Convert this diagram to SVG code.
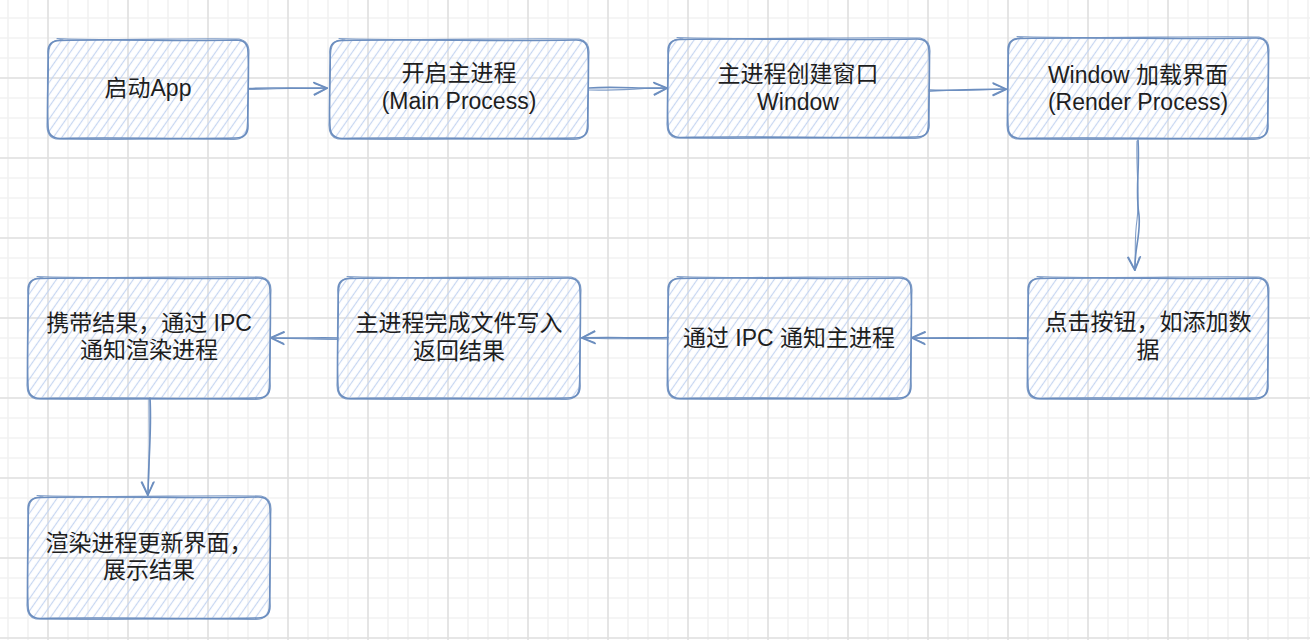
<svg xmlns="http://www.w3.org/2000/svg" width="1310" height="640" viewBox="0 0 1310 640">
  <defs>
    <style>
      .edge { fill: none; stroke: #6c8ebf; stroke-width: 1.6; stroke-linecap: round; stroke-linejoin: round; }
      .edge2 { fill: none; stroke: #6c8ebf; stroke-width: 1.1; stroke-linecap: round; stroke-linejoin: round; opacity: 0.85; }
      .hatch { fill: url(#hatchFill); stroke: none; }
      .label { font-family: "Liberation Sans", "Noto Sans CJK SC", sans-serif; font-size: 23px; fill: #1e1e1e; text-anchor: middle; dominant-baseline: central; }
    </style>
    <!-- background grid -->
    <pattern id="gridMinor" patternUnits="userSpaceOnUse" x="-2" y="-12" width="20" height="20">
      <path d="M10,0 V20 M0,10 H20" stroke="#f2f2f2" stroke-width="1.6" fill="none"/>
    </pattern>
    <pattern id="gridMajor" patternUnits="userSpaceOnUse" x="8" y="-42" width="80" height="80">
      <path d="M40,0 V80 M0,40 H80" stroke="#e1e1e1" stroke-width="1.6" fill="none"/>
    </pattern>
    <!-- hachure fill for the boxes -->
    <pattern id="hatchFill" patternUnits="userSpaceOnUse" width="7" height="7" patternTransform="rotate(35)">
      <line x1="3.5" y1="-1" x2="3.5" y2="8" stroke="#c6d6f1" stroke-width="1.2"/>
    </pattern>
    <marker id="arrowHead" markerUnits="userSpaceOnUse" orient="auto" refX="0" refY="0" markerWidth="24" markerHeight="24" viewBox="-18 -12 24 24" overflow="visible">
      <path d="M-13,-6 L0,0 L-13,6" fill="none" stroke="#6c8ebf" stroke-width="1.6" stroke-linecap="round" stroke-linejoin="round"/>
      <path d="M-12.5,-5 L0.5,0.4 L-12.8,6.8" fill="none" stroke="#6c8ebf" stroke-width="1.1" stroke-linecap="round" stroke-linejoin="round"/>
    </marker>
  </defs>

  <rect width="1310" height="640" fill="#ffffff"/>
  <rect width="1310" height="640" fill="url(#gridMinor)"/>
  <rect width="1310" height="640" fill="url(#gridMajor)"/>

  <g id="connectors">
    <path class="edge" d="M249,88.5 C275,87 300,89 327,88" marker-end="url(#arrowHead)"/>
    <path class="edge2" d="M249,89.5 C276,89 302,87.5 327,88"/>

    <path class="edge" d="M589,88 C615,86 640,89 667,88" marker-end="url(#arrowHead)"/>
    <path class="edge2" d="M589,90 C615,91 642,88 667,88"/>

    <path class="edge" d="M929,90 C955,91 980,89 1006,89" marker-end="url(#arrowHead)"/>
    <path class="edge2" d="M929,91.5 C956,89.5 981,90.5 1006,89"/>

    <path class="edge" d="M1138,140 C1140,170 1135,190 1139,215 C1141,235 1134,250 1135,270" marker-end="url(#arrowHead)"/>
    <path class="edge2" d="M1137,141 C1136,172 1140,195 1137,220 C1134,240 1136,255 1135,270"/>

    <path class="edge" d="M1028,338.5 C990,337 950,339 912,338" marker-end="url(#arrowHead)"/>
    <path class="edge2" d="M1028,337.5 C988,338.5 951,337 912,338"/>

    <path class="edge" d="M668,337.5 C640,338.5 610,337 582,338" marker-end="url(#arrowHead)"/>
    <path class="edge2" d="M668,339 C638,338 612,339.5 582,338"/>

    <path class="edge" d="M338,338 C315,337.5 293,338.5 271,338" marker-end="url(#arrowHead)"/>
    <path class="edge2" d="M338,339.5 C316,339 294,339 271,338"/>

    <path class="edge" d="M150,398 C152,430 148,465 148,495" marker-end="url(#arrowHead)"/>
    <path class="edge2" d="M149,399 C149,432 150,462 148,495"/>
  </g>

  <g id="start-app">
    <rect class="hatch" x="48" y="40" width="200" height="98" rx="12"/>
    <path class="edge" d="M60,40.5 C118,39 178,41.5 236,40 Q248,40 248,52 C249.5,74 247,104 248,126 Q248,138 236,138 C178,139.5 118,137 60,138.5 Q48,138 48,126 C46.5,104 49,74 48,52 Q48,40.5 60,40.5"/>
    <path class="edge2" d="M57,38.5 C118,41 180,38 239,39 Q249.5,41 249,53 C247.5,78 249.5,102 247,128 Q245.5,140 233,139.5 C176,137.5 116,140.5 56,139 Q46.5,137 47,124 C48.5,100 46,76 49,50 Q50.5,38.5 63,40"/>
    <text class="label" x="148" y="88">启动App</text>
  </g>

  <g id="main-process">
    <rect class="hatch" x="330" y="40" width="258" height="98" rx="12"/>
    <path class="edge" d="M342,40.5 C418,39 500,41.5 576,40 Q588,40 588,52 C589.5,74 587,104 588,126 Q588,138 576,138 C500,139.5 418,137 342,138.5 Q330,138 330,126 C328.5,104 331,74 330,52 Q330,40.5 342,40.5"/>
    <path class="edge2" d="M339,38.5 C420,41 500,38 579,39 Q589.5,41 589,53 C587.5,78 589.5,102 587,128 Q585.5,140 573,139.5 C498,137.5 416,140.5 338,139 Q328.5,137 329,124 C330.5,100 328,76 331,50 Q332.5,38.5 345,40"/>
    <text class="label" x="459" y="73">开启主进程</text>
    <text class="label" x="459" y="101">(Main Process)</text>
  </g>

  <g id="create-window">
    <rect class="hatch" x="668" y="39" width="261" height="98" rx="12"/>
    <path class="edge" d="M680,39.5 C760,38 842,40.5 917,39 Q929,39 929,51 C930.5,73 928,103 929,125 Q929,137 917,137 C842,138.5 760,136 680,137.5 Q668,137 668,125 C666.5,103 669,73 668,51 Q668,39.5 680,39.5"/>
    <path class="edge2" d="M677,37.5 C760,40 842,37 920,38 Q930.5,40 930,52 C928.5,77 930.5,101 928,127 Q926.5,139 914,138.5 C840,136.5 758,139.5 676,138 Q666.5,136 667,123 C668.5,99 666,75 669,49 Q670.5,37.5 683,39"/>
    <text class="label" x="798" y="74">主进程创建窗口</text>
    <text class="label" x="798" y="102">Window</text>
  </g>

  <g id="render-process">
    <rect class="hatch" x="1008" y="38" width="260" height="100" rx="12"/>
    <path class="edge" d="M1020,38.5 C1100,37 1182,39.5 1256,38 Q1268,38 1268,50 C1269.5,73 1267,104 1268,126 Q1268,138 1256,138 C1182,139.5 1100,137 1020,138.5 Q1008,138 1008,126 C1006.5,104 1009,73 1008,50 Q1008,38.5 1020,38.5"/>
    <path class="edge2" d="M1017,36.5 C1100,39 1182,36 1259,37 Q1269.5,39 1269,51 C1267.5,77 1269.5,102 1267,128 Q1265.5,140 1253,139.5 C1180,137.5 1098,140.5 1016,139 Q1006.5,137 1007,124 C1008.5,100 1006,76 1009,48 Q1010.5,36.5 1023,38"/>
    <text class="label" x="1138" y="75">Window 加载界面</text>
    <text class="label" x="1138" y="102">(Render Process)</text>
  </g>

  <g id="click-button">
    <rect class="hatch" x="1028" y="278" width="240" height="120" rx="12"/>
    <path class="edge" d="M1040,278.5 C1112,277 1190,279.5 1256,278 Q1268,278 1268,290 C1269.5,318 1267,358 1268,386 Q1268,398 1256,398 C1190,399.5 1112,397 1040,398.5 Q1028,398 1028,386 C1026.5,358 1029,318 1028,290 Q1028,278.5 1040,278.5"/>
    <path class="edge2" d="M1037,276.5 C1112,279 1190,276 1259,277 Q1269.5,279 1269,291 C1267.5,322 1269.5,356 1267,388 Q1265.5,400 1253,399.5 C1188,397.5 1110,400.5 1036,399 Q1026.5,397 1027,384 C1028.5,354 1026,322 1029,288 Q1030.5,276.5 1043,278"/>
    <text class="label" x="1148" y="322">点击按钮，如添加数</text>
    <text class="label" x="1148" y="350">据</text>
  </g>

  <g id="ipc-notify-main">
    <rect class="hatch" x="668" y="278" width="243" height="120" rx="12"/>
    <path class="edge" d="M680,278.5 C752,277 830,279.5 899,278 Q911,278 911,290 C912.5,318 910,358 911,386 Q911,398 899,398 C830,399.5 752,397 680,398.5 Q668,398 668,386 C666.5,358 669,318 668,290 Q668,278.5 680,278.5"/>
    <path class="edge2" d="M677,276.5 C752,279 830,276 902,277 Q912.5,279 912,291 C910.5,322 912.5,356 910,388 Q908.5,400 896,399.5 C828,397.5 750,400.5 676,399 Q666.5,397 667,384 C668.5,354 666,322 669,288 Q670.5,276.5 683,278"/>
    <text class="label" x="789" y="338">通过 IPC 通知主进程</text>
  </g>

  <g id="write-file">
    <rect class="hatch" x="338" y="278" width="242" height="120" rx="12"/>
    <path class="edge" d="M350,278.5 C422,277 500,279.5 568,278 Q580,278 580,290 C581.5,318 579,358 580,386 Q580,398 568,398 C500,399.5 422,397 350,398.5 Q338,398 338,386 C336.5,358 339,318 338,290 Q338,278.5 350,278.5"/>
    <path class="edge2" d="M347,276.5 C422,279 500,276 571,277 Q581.5,279 581,291 C579.5,322 581.5,356 579,388 Q577.5,400 565,399.5 C498,397.5 420,400.5 346,399 Q336.5,397 337,384 C338.5,354 336,322 339,288 Q340.5,276.5 353,278"/>
    <text class="label" x="459" y="323">主进程完成文件写入</text>
    <text class="label" x="459" y="351">返回结果</text>
  </g>

  <g id="ipc-notify-render">
    <rect class="hatch" x="28" y="278" width="242" height="120" rx="12"/>
    <path class="edge" d="M40,278.5 C112,277 190,279.5 258,278 Q270,278 270,290 C271.5,318 269,358 270,386 Q270,398 258,398 C190,399.5 112,397 40,398.5 Q28,398 28,386 C26.5,358 29,318 28,290 Q28,278.5 40,278.5"/>
    <path class="edge2" d="M37,276.5 C112,279 190,276 261,277 Q271.5,279 271,291 C269.5,322 271.5,356 269,388 Q267.5,400 255,399.5 C188,397.5 110,400.5 36,399 Q26.5,397 27,384 C28.5,354 26,322 29,288 Q30.5,276.5 43,278"/>
    <text class="label" x="149" y="323">携带结果，通过 IPC</text>
    <text class="label" x="149" y="350">通知渲染进程</text>
  </g>

  <g id="update-view">
    <rect class="hatch" x="28" y="497" width="242" height="121" rx="12"/>
    <path class="edge" d="M40,497.5 C112,496 190,498.5 258,497 Q270,497 270,509 C271.5,537 269,578 270,606 Q270,618 258,618 C190,619.5 112,617 40,618.5 Q28,618 28,606 C26.5,578 29,537 28,509 Q28,497.5 40,497.5"/>
    <path class="edge2" d="M37,495.5 C112,498 190,495 261,496 Q271.5,498 271,510 C269.5,541 271.5,576 269,608 Q267.5,620 255,619.5 C188,617.5 110,620.5 36,619 Q26.5,617 27,604 C28.5,574 26,541 29,507 Q30.5,495.5 43,497"/>
    <text class="label" x="149" y="543">渲染进程更新界面，</text>
    <text class="label" x="149" y="570">展示结果</text>
  </g>
</svg>
